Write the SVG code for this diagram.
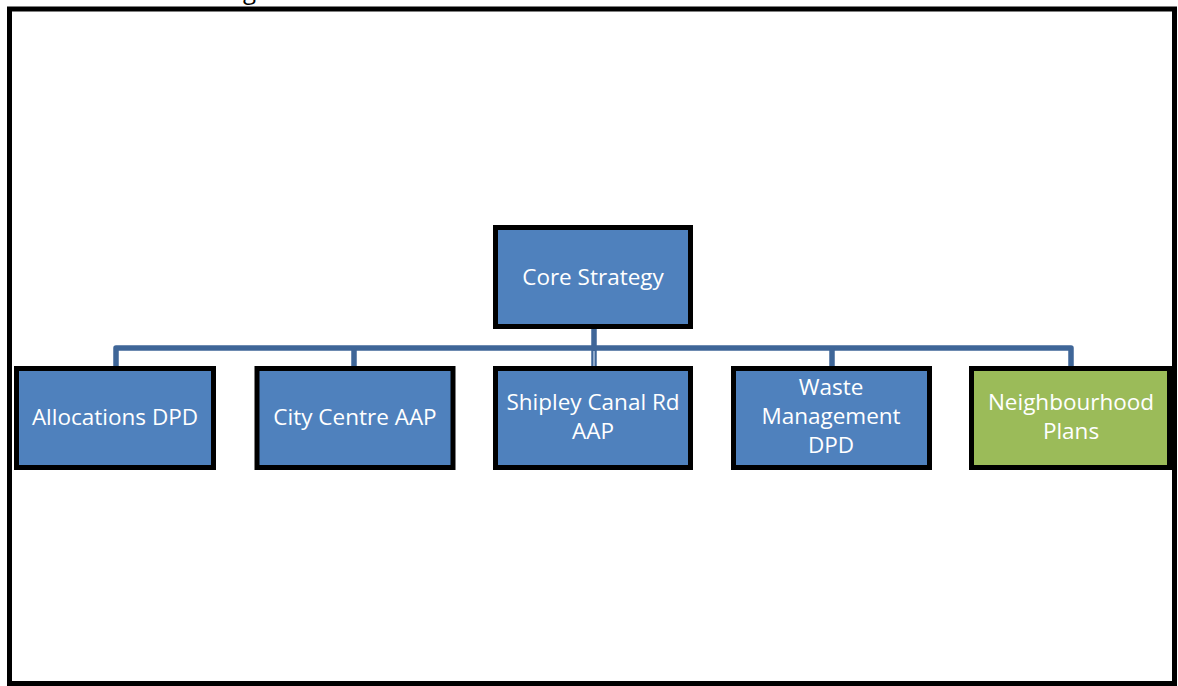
<svg xmlns="http://www.w3.org/2000/svg" width="1178" height="686" viewBox="0 0 1178 686">
<style>
.box{stroke:#000;stroke-width:5;stroke-linejoin:miter}
.blue{fill:#4F81BD}
.green{fill:#9BBB59}
.lbl{font-family:"Open Sans","Liberation Sans",sans-serif;font-size:22.5px;fill:#fff;text-anchor:middle}
.conn{fill:none;stroke:#3F6698;stroke-width:5.5;stroke-linejoin:round}
</style>
<rect x="0" y="0" width="1178" height="686" fill="#fff"/>
<text x="243" y="-1" style="font-family:'Open Sans','Liberation Sans',sans-serif;font-size:24px;fill:#000">g</text>
<rect x="9.5" y="9" width="1165" height="674.5" fill="none" stroke="#000" stroke-width="5"/>
<g id="connectors">
<path class="conn" d="M594 329 V366"/>
<path class="conn" d="M116 366 V348 H1071 V366"/>
<path class="conn" d="M354 348 V366"/>
<path class="conn" d="M832 348 V366"/>
<line x1="594" y1="351" x2="594" y2="366" stroke="#8FA9CB" stroke-width="2"/>
</g>
<g id="core">
<rect class="box blue" x="495.5" y="227.5" width="195" height="99"/>
<text class="lbl" x="593" y="285">Core Strategy</text>
</g>
<g id="allocations">
<rect class="box blue" x="16.5" y="368.5" width="197" height="99"/>
<text class="lbl" x="115" y="425">Allocations DPD</text>
</g>
<g id="citycentre">
<rect class="box blue" x="257" y="368.5" width="196" height="99"/>
<text class="lbl" x="355" y="425">City Centre AAP</text>
</g>
<g id="shipley">
<rect class="box blue" x="495.5" y="368.5" width="195" height="99"/>
<text class="lbl" x="593" y="410">Shipley Canal Rd</text>
<text class="lbl" x="593" y="439">AAP</text>
</g>
<g id="waste">
<rect class="box blue" x="733.5" y="368.5" width="196" height="99"/>
<text class="lbl" x="831" y="395">Waste</text>
<text class="lbl" x="831" y="424">Management</text>
<text class="lbl" x="831" y="453">DPD</text>
</g>
<g id="neighbourhood">
<rect class="box green" x="971.5" y="368.5" width="198" height="99"/>
<text class="lbl" x="1071" y="410">Neighbourhood</text>
<text class="lbl" x="1071" y="439">Plans</text>
</g>
</svg>
